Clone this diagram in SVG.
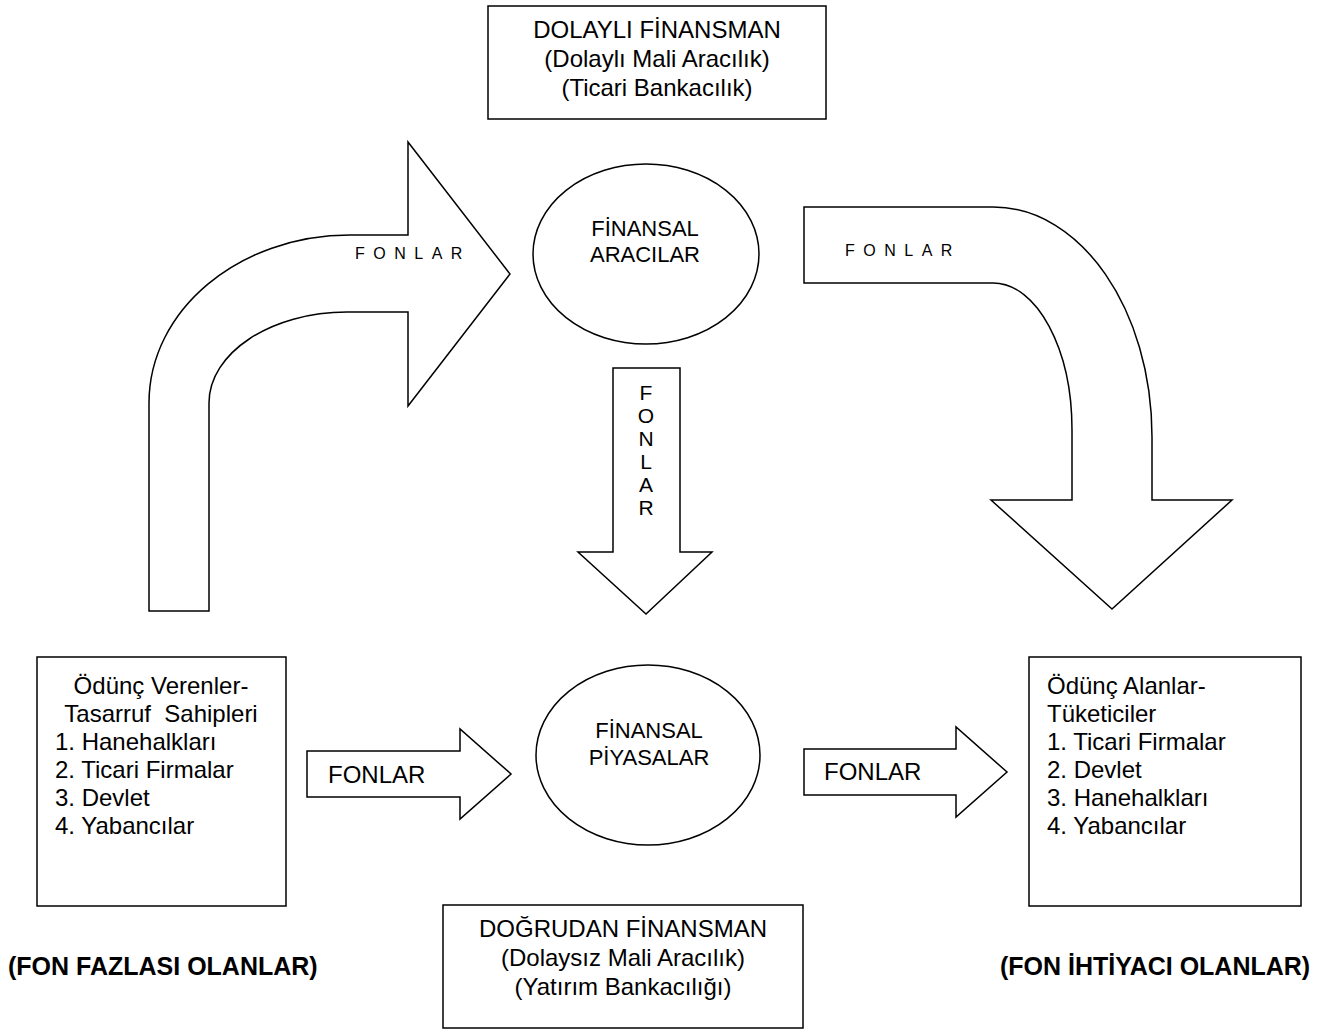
<svg xmlns="http://www.w3.org/2000/svg" width="1330" height="1031" viewBox="0 0 1330 1031">
<style>
.s{fill:#fff;stroke:#000;stroke-width:1.5}
.t{font-family:"Liberation Sans",Arial,sans-serif;font-size:24px;fill:#000}
.e{font-size:22px}
.c{text-anchor:middle}
.b{font-weight:bold;font-size:25px}
.sp{font-family:"Liberation Sans",Arial,sans-serif;font-size:16px;letter-spacing:8.5px;fill:#000}
</style>
<rect width="1330" height="1031" fill="#fff"/>
<g id="connectors">
  <g id="arrow-left-curved">
    <path class="s" d="M149,611 L149,403 C149,310 239,235 350,235 L408,235 L408,142 L510,274 L408,406 L408,312 L347,312 C271,312 209,353 209,403 L209,611 Z"/>
    <text class="sp" x="355" y="259">FONLAR</text>
  </g>
  <g id="arrow-right-curved">
    <path class="s" d="M804,207 L993,207 C1081,207 1152,310 1152,437 L1152,500 L1232,500 L1112,609 L991,500 L1072,500 L1072,430 C1072,349 1037,283 993,283 L804,283 Z"/>
    <text class="sp" x="845" y="256">FONLAR</text>
  </g>
  <g id="arrow-down">
    <path class="s" d="M613,368 L680,368 L680,552 L712,552 L646,614 L578,552 L613,552 Z"/>
    <g class="t c" style="font-size:21px">
      <text x="646" y="400">F</text>
      <text x="646" y="423">O</text>
      <text x="646" y="446">N</text>
      <text x="646" y="469">L</text>
      <text x="646" y="492">A</text>
      <text x="646" y="515">R</text>
    </g>
  </g>
  <g id="arrow-h-left">
    <path class="s" d="M307,751 L460,751 L460,729 L511,774 L460,819 L460,797 L307,797 Z"/>
    <text class="t" x="328" y="783">FONLAR</text>
  </g>
  <g id="arrow-h-right">
    <path class="s" d="M804,749 L956,749 L956,727 L1007,772 L956,817 L956,795 L804,795 Z"/>
    <text class="t" x="824" y="780">FONLAR</text>
  </g>
</g>
<g id="node-dolayli">
  <rect class="s" x="488" y="6" width="338" height="113"/>
  <text class="t c" x="657" y="38">DOLAYLI FİNANSMAN</text>
  <text class="t c" x="657" y="67">(Dolaylı Mali Aracılık)</text>
  <text class="t c" x="657" y="96">(Ticari Bankacılık)</text>
</g>
<g id="node-aracilar">
  <ellipse class="s" cx="646" cy="254" rx="113" ry="90"/>
  <text class="t e c" x="645" y="236">FİNANSAL</text>
  <text class="t e c" x="645" y="262">ARACILAR</text>
</g>
<g id="node-piyasalar">
  <ellipse class="s" cx="648" cy="755" rx="112" ry="90"/>
  <text class="t e c" x="649" y="738">FİNANSAL</text>
  <text class="t e c" x="649" y="765">PİYASALAR</text>
</g>
<g id="node-verenler">
  <rect class="s" x="37" y="657" width="249" height="249"/>
  <text class="t c" x="161" y="694">Ödünç Verenler-</text>
  <text class="t c" x="161" y="722" xml:space="preserve">Tasarruf  Sahipleri</text>
  <text class="t" x="55" y="750">1. Hanehalkları</text>
  <text class="t" x="55" y="778">2. Ticari Firmalar</text>
  <text class="t" x="55" y="806">3. Devlet</text>
  <text class="t" x="55" y="834">4. Yabancılar</text>
</g>
<g id="node-alanlar">
  <rect class="s" x="1029" y="657" width="272" height="249"/>
  <text class="t" x="1047" y="694">Ödünç Alanlar-</text>
  <text class="t" x="1047" y="722">Tüketiciler</text>
  <text class="t" x="1047" y="750">1. Ticari Firmalar</text>
  <text class="t" x="1047" y="778">2. Devlet</text>
  <text class="t" x="1047" y="806">3. Hanehalkları</text>
  <text class="t" x="1047" y="834">4. Yabancılar</text>
</g>
<g id="node-dogrudan">
  <rect class="s" x="443" y="905" width="360" height="123"/>
  <text class="t c" x="623" y="937">DOĞRUDAN FİNANSMAN</text>
  <text class="t c" x="623" y="966">(Dolaysız Mali Aracılık)</text>
  <text class="t c" x="623" y="995">(Yatırım Bankacılığı)</text>
</g>
<g id="label-fazla">
  <text class="t b" x="8" y="975">(FON FAZLASI OLANLAR)</text>
</g>
<g id="label-ihtiyac">
  <text class="t b" x="1000" y="975">(FON İHTİYACI OLANLAR)</text>
</g>
</svg>
